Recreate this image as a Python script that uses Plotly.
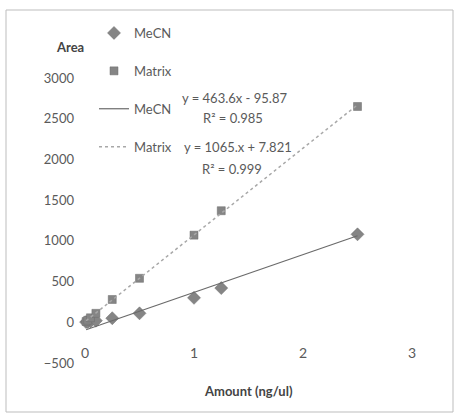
import plotly.graph_objects as go

# ---- data ----
amount = [0.01, 0.025, 0.05, 0.1, 0.25, 0.5, 1.0, 1.25, 2.5]
mecn_area = [2, 5, 10, 20, 50, 110, 300, 420, 1080]
matrix_area = [10, 25, 55, 110, 280, 540, 1070, 1370, 2650]

# trendline equations shown on the chart
mecn_slope, mecn_intercept = 463.6, -95.87
matrix_slope, matrix_intercept = 1065.0, 7.821
mecn_eq = ["y = 463.6x - 95.87", "R² = 0.985"]
matrix_eq = ["y = 1065.x + 7.821", "R² = 0.999"]

x_ticks = [0, 1, 2, 3]
y_ticks = [-500, 0, 500, 1000, 1500, 2000, 2500, 3000]

FONT = "Lato"
TXT = "#5a5a5a"
MARK = "#858585"

fig = go.Figure()
fig.add_trace(go.Scatter(
    x=amount, y=mecn_area, mode="markers", name="MeCN", legendgroup="a",
    marker=dict(symbol="diamond", size=10, color=MARK, line=dict(width=0.5, color="#6d6d6d")),
    cliponaxis=False))
fig.add_trace(go.Scatter(
    x=amount, y=matrix_area, mode="markers", name="Matrix", legendgroup="b",
    marker=dict(symbol="square", size=8, color=MARK, line=dict(width=0.5, color="#6d6d6d")),
    cliponaxis=False))

xl = [min(amount), max(amount)]
fig.add_trace(go.Scatter(
    x=xl, y=[mecn_slope * v + mecn_intercept for v in xl], mode="lines", name="MeCN",
    legendgroup="c", line=dict(color="#6a6a6a", width=1.2), cliponaxis=False))
fig.add_trace(go.Scatter(
    x=xl, y=[matrix_slope * v + matrix_intercept for v in xl], mode="lines", name="Matrix",
    legendgroup="d", line=dict(color="#a8a8a8", width=1.5, dash="dot"), cliponaxis=False))

# equation labels
for (txt, xx, yy) in [(mecn_eq[0], 1.37, 2760), (mecn_eq[1], 1.36, 2505),
                      (matrix_eq[0], 1.40, 2150), (matrix_eq[1], 1.35, 1880)]:
    fig.add_annotation(x=xx, y=yy, text=txt, showarrow=False, xanchor="center",
                       font=dict(family=FONT, size=13, color=TXT))

fig.add_annotation(xref="paper", yref="paper", x=(70 - 85) / 327, y=(363 - 47) / 285,
                   text="<b>Area</b>", showarrow=False, xanchor="center", yanchor="middle",
                   font=dict(family=FONT, size=13, color="#444"))
fig.add_annotation(xref="paper", yref="paper", x=(248 - 85) / 327, y=(363 - 391) / 285,
                   text="<b>Amount (ng/ul)</b>", showarrow=False, xanchor="center", yanchor="middle",
                   font=dict(family=FONT, size=13, color="#444"))

# outer chart frame
fig.add_shape(type="rect", xref="paper", yref="paper",
              x0=(6 - 85) / 327, x1=(453 - 85) / 327, y0=(363 - 412) / 285, y1=(363 - 10) / 285,
              line=dict(color="#bdbdbd", width=1), fillcolor="rgba(0,0,0,0)", layer="below")

fig.update_layout(
    width=456, height=416,
    margin=dict(l=85, r=44, t=78, b=53),
    paper_bgcolor="white", plot_bgcolor="white",
    font=dict(family=FONT, size=13, color=TXT),
    showlegend=True,
    legend=dict(x=(94 - 85) / 327, y=(363 - 18) / 285, xanchor="left", yanchor="top",
                bgcolor="rgba(0,0,0,0)", tracegroupgap=18, traceorder="grouped",
                font=dict(family=FONT, size=13, color=TXT)),
    xaxis=dict(range=[0, 3], tickvals=x_ticks, showgrid=False, zeroline=False, showline=False,
               ticks="", tickfont=dict(family=FONT, size=14, color=TXT), ticklabelstandoff=-20),
    yaxis=dict(range=[-500, 3000], tickvals=y_ticks, showgrid=False, zeroline=False, showline=False,
               ticks="", tickfont=dict(family=FONT, size=13, color=TXT), ticklabelstandoff=10),
)

fig.write_html("out.html")
